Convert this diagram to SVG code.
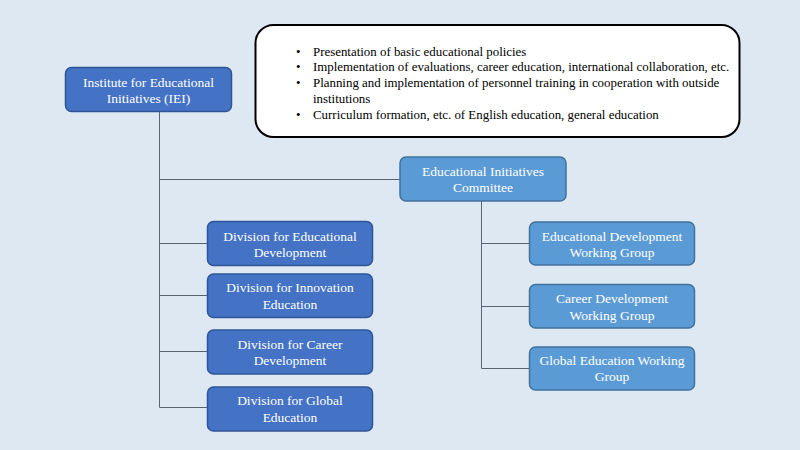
<svg xmlns="http://www.w3.org/2000/svg" width="800" height="450" viewBox="0 0 800 450" font-family="'Liberation Serif', 'Times New Roman', 'DejaVu Serif', serif">
<style>
.dk{fill:#4472C4;stroke:#2F5597;stroke-width:1.5}
.lt{fill:#5B9BD5;stroke:#41719C;stroke-width:1.5}
text{font-family:'Liberation Serif','Times New Roman','DejaVu Serif',serif}
.t{font-size:13.5px;fill:#FFFFFF;text-anchor:middle}
.b{font-size:12.9px;fill:#000000}
.c{stroke:#5A6473;stroke-width:1;fill:none}
</style>
<rect width="800" height="450" fill="#DEE8F3"/>
<g id="connectors">
<path class="c" d="M159.5 111.5V407.5M159.5 179.5H400M159.5 243.5H207M159.5 295.5H207M159.5 351.5H207M159.5 407.5H207"/>
<path class="c" d="M481.5 200.5V368.5M481.5 243.5H529M481.5 306.5H529M481.5 368.5H529"/>
</g>
<g id="notes">
<rect x="255.5" y="25" width="484" height="112" rx="18" fill="#FFFFFF" stroke="#000000" stroke-width="2"/>
<g class="b">
<text x="296" y="55.5">•</text><text x="313" y="55.5">Presentation of basic educational policies</text>
<text x="296" y="71">•</text><text x="313" y="71">Implementation of evaluations, career education, international collaboration, etc.</text>
<text x="296" y="87">•</text><text x="313" y="87">Planning and implementation of personnel training in cooperation with outside</text>
<text x="313" y="102.5">institutions</text>
<text x="296" y="118.5">•</text><text x="313" y="118.5">Curriculum formation, etc. of English education, general education</text>
</g>
</g>
<g id="iei">
<rect class="dk" x="65.5" y="67.5" width="166" height="44" rx="6"/>
<text class="t" x="148.5" y="86.5">Institute for Educational</text>
<text class="t" x="148.5" y="103">Initiatives (IEI)</text>
</g>
<g id="committee">
<rect class="lt" x="400" y="157" width="166" height="44" rx="6"/>
<text class="t" x="483" y="176">Educational Initiatives</text>
<text class="t" x="483" y="191.5">Committee</text>
</g>
<g id="div-edu-dev">
<rect class="dk" x="207.5" y="221.5" width="165" height="44" rx="6"/>
<text class="t" x="290" y="240.5">Division for Educational</text>
<text class="t" x="290" y="256.5">Development</text>
</g>
<g id="div-innovation">
<rect class="dk" x="207.5" y="274" width="165" height="43.5" rx="6"/>
<text class="t" x="290" y="292">Division for Innovation</text>
<text class="t" x="290" y="308.5">Education</text>
</g>
<g id="div-career">
<rect class="dk" x="207.5" y="330" width="165" height="44" rx="6"/>
<text class="t" x="290" y="348.5">Division for Career</text>
<text class="t" x="290" y="365">Development</text>
</g>
<g id="div-global">
<rect class="dk" x="207.5" y="387" width="165" height="44" rx="6"/>
<text class="t" x="290" y="405">Division for Global</text>
<text class="t" x="290" y="421.5">Education</text>
</g>
<g id="wg-edu-dev">
<rect class="lt" x="529.5" y="222" width="165" height="43" rx="6"/>
<text class="t" x="612" y="240.5">Educational Development</text>
<text class="t" x="612" y="256.5">Working Group</text>
</g>
<g id="wg-career">
<rect class="lt" x="529.5" y="284.5" width="165" height="43.5" rx="6"/>
<text class="t" x="612" y="303">Career Development</text>
<text class="t" x="612" y="319.5">Working Group</text>
</g>
<g id="wg-global">
<rect class="lt" x="529.5" y="347" width="165" height="43" rx="6"/>
<text class="t" x="612" y="365">Global Education Working</text>
<text class="t" x="612" y="381">Group</text>
</g>
</svg>
